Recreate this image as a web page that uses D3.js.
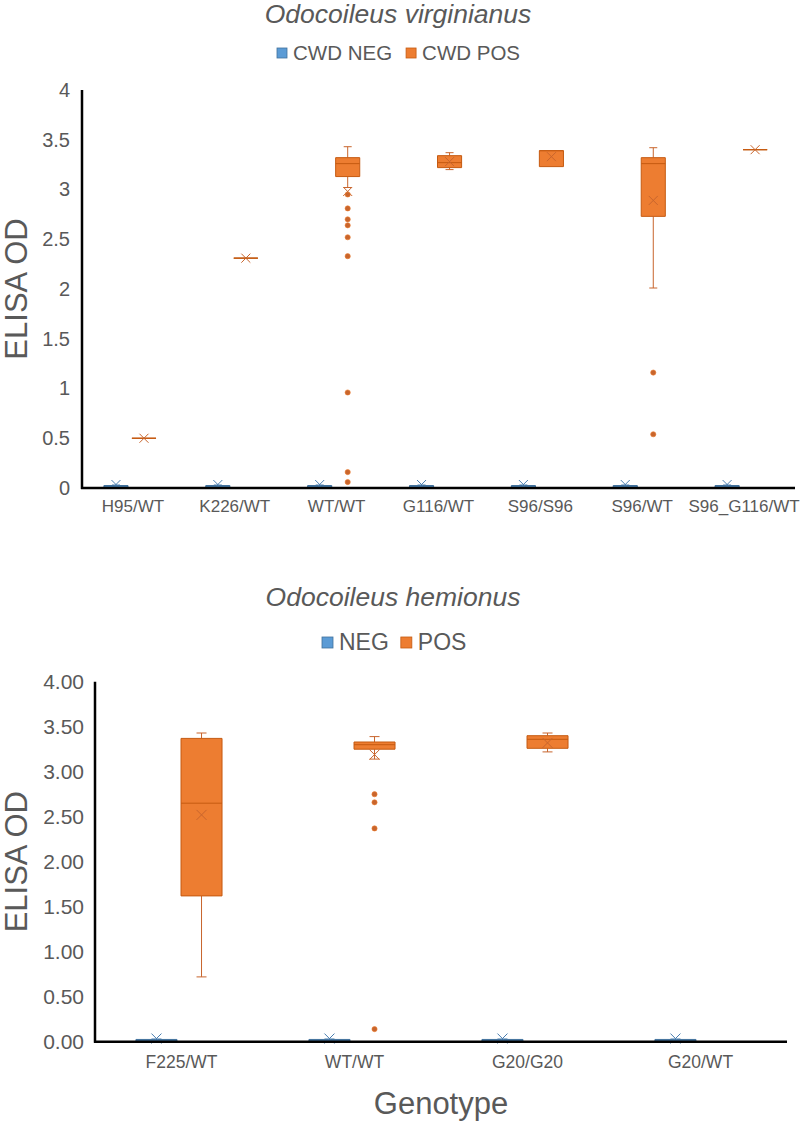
<!DOCTYPE html>
<html>
<head>
<meta charset="utf-8">
<script src="https://cdn.jsdelivr.net/npm/d3@7"></script>
<style>
  html, body { margin: 0; padding: 0; background: #fff; }
  svg { display: block; font-family: "Liberation Sans", Arial, sans-serif; }
</style>
</head>
<body>
<svg id="chart" width="800" height="1124"></svg>
<script>
// ---------- DATA ----------
// box stats: [min, q1, median, q3, max, mean]
const topTitle = "Odocoileus virginianus";
const topSeries = ["CWD NEG", "CWD POS"];
const topCategories = ["H95/WT", "K226/WT", "WT/WT", "G116/WT", "S96/S96", "S96/WT", "S96_G116/WT"];
const topTicks = [0, 0.5, 1, 1.5, 2, 2.5, 3, 3.5, 4];
const topNeg = [
  [0, 0, 0.01, 0.025, 0.03, 0.035],
  [0, 0, 0.01, 0.025, 0.03, 0.035],
  [0, 0, 0.01, 0.025, 0.03, 0.035],
  [0, 0, 0.01, 0.025, 0.03, 0.035],
  [0, 0, 0.01, 0.025, 0.03, 0.035],
  [0, 0, 0.01, 0.025, 0.03, 0.035],
  [0, 0, 0.01, 0.025, 0.03, 0.035]
];
const topPos = [
  [0.50, 0.50, 0.50, 0.50, 0.50, 0.50],
  [2.31, 2.31, 2.31, 2.31, 2.31, 2.31],
  [3.02, 3.13, 3.26, 3.32, 3.43, 2.98],
  [3.20, 3.22, 3.27, 3.34, 3.37, 3.28],
  [3.23, 3.23, 3.39, 3.39, 3.39, 3.33],
  [2.01, 2.73, 3.26, 3.32, 3.42, 2.89],
  [3.40, 3.40, 3.40, 3.40, 3.40, 3.40]
];
const topPosOutliers = [
  [], [],
  [2.95, 2.81, 2.70, 2.64, 2.52, 2.33, 0.96, 0.16, 0.06],
  [], [],
  [1.16, 0.54],
  []
];

const botTitle = "Odocoileus hemionus";
const botSeries = ["NEG", "POS"];
const botCategories = ["F225/WT", "WT/WT", "G20/G20", "G20/WT"];
const botTicks = [0, 0.5, 1, 1.5, 2, 2.5, 3, 3.5, 4];
const botNeg = [
  [0, 0, 0.01, 0.025, 0.03, 0.035],
  [0, 0, 0.01, 0.025, 0.03, 0.035],
  [0, 0, 0.01, 0.025, 0.03, 0.035],
  [0, 0, 0.01, 0.025, 0.03, 0.035]
];
const botPos = [
  [0.72, 1.62, 2.65, 3.37, 3.43, 2.52],
  [3.14, 3.25, 3.30, 3.33, 3.39, 3.19],
  [3.22, 3.26, 3.36, 3.40, 3.43, 3.32],
  null
];
const botPosOutliers = [[], [2.75, 2.66, 2.37, 0.14], [], []];

const xTitle = "Genotype";
const yTitle = "ELISA OD";

// ---------- STYLE ----------
const textColor = "#595959";
const colors = {
  neg: { fill: "#5B9BD5", stroke: "#41719C", mark: "#4A7EB0" },
  pos: { fill: "#ED7D31", stroke: "#C55A11", mark: "#C8652D" }
};

const svg = d3.select("#chart");

function drawPanel(cfg) {
  const g = svg.append("g");
  const x = d3.scaleBand().domain(cfg.categories).range([cfg.left, cfg.right]);
  const y = d3.scaleLinear().domain([0, 4]).range([cfg.bottom, cfg.top]);
  const x1 = d3.scaleBand().domain(cfg.series)
    .range([x.bandwidth() * cfg.subStart, x.bandwidth() * cfg.subEnd]);
  const boxW = x1.bandwidth() * cfg.boxFrac;
  const capW = cfg.capW;

  // title
  g.append("text")
    .attr("x", cfg.titleX).attr("y", cfg.titleY)
    .attr("text-anchor", "middle")
    .attr("font-size", cfg.titleSize).attr("font-style", "italic")
    .attr("fill", textColor)
    .text(cfg.title);

  // legend
  const lg = g.append("g");
  const legendItems = cfg.series.map((s, i) => ({ name: s, c: i === 0 ? colors.neg : colors.pos }));
  let lx = cfg.legendX;
  legendItems.forEach((it, i) => {
    lg.append("rect")
      .attr("x", lx).attr("y", cfg.legendY - cfg.legendSq - 2)
      .attr("width", cfg.legendSq).attr("height", cfg.legendSq)
      .attr("fill", it.c.fill).attr("stroke", it.c.stroke).attr("stroke-width", 0.8);
    const t = lg.append("text")
      .attr("x", lx + cfg.legendSq + 6).attr("y", cfg.legendY)
      .attr("font-size", cfg.legendSize).attr("fill", textColor)
      .text(it.name);
    lx += cfg.legendSq + 6 + t.node().getComputedTextLength() + cfg.legendGap;
  });

  // y axis labels
  const yAxis = d3.axisLeft(y).tickValues(cfg.ticks).tickFormat(cfg.fmt).tickSize(0).tickPadding(cfg.tickPad);
  const ya = g.append("g").attr("transform", `translate(${cfg.left},0)`).call(yAxis);
  ya.select(".domain").remove();
  ya.selectAll("text").attr("font-size", cfg.tickSize).attr("fill", textColor)
    .attr("font-family", '"Liberation Sans", Arial, sans-serif');

  // x axis labels
  const xAxis = d3.axisBottom(x).tickSize(0).tickPadding(cfg.xTickPad);
  const xa = g.append("g").attr("transform", `translate(0,${cfg.bottom})`).call(xAxis);
  xa.select(".domain").remove();
  xa.selectAll("text").attr("font-size", cfg.catSize).attr("fill", textColor)
    .attr("font-family", '"Liberation Sans", Arial, sans-serif');

  // y title
  g.append("text")
    .attr("transform", `translate(${cfg.yTitleX},${(cfg.top + cfg.bottom) / 2}) rotate(-90)`)
    .attr("text-anchor", "middle").attr("dy", "0.35em")
    .attr("font-size", 31).attr("fill", textColor)
    .text(yTitle);

  // boxes
  function drawBoxes(stats, outliers, seriesName, c) {
    stats.forEach((s, i) => {
      if (!s) return;
      const [mn, q1, md, q3, mx, mean] = s;
      const cx = x(cfg.categories[i]) + x1(seriesName) + x1.bandwidth() / 2;
      const bg = g.append("g");
      // whiskers
      bg.append("line").attr("x1", cx).attr("x2", cx).attr("y1", y(q3)).attr("y2", y(mx))
        .attr("stroke", c.mark).attr("stroke-width", 1);
      bg.append("line").attr("x1", cx).attr("x2", cx).attr("y1", y(q1)).attr("y2", y(mn))
        .attr("stroke", c.mark).attr("stroke-width", 1);
      if (mx > q3) bg.append("line").attr("x1", cx - capW / 2).attr("x2", cx + capW / 2)
        .attr("y1", y(mx)).attr("y2", y(mx)).attr("stroke", c.mark).attr("stroke-width", 1);
      if (mn < q1) bg.append("line").attr("x1", cx - capW / 2).attr("x2", cx + capW / 2)
        .attr("y1", y(mn)).attr("y2", y(mn)).attr("stroke", c.mark).attr("stroke-width", 1);
      // box
      const x0 = cx - boxW / 2, xr = cx + boxW / 2;
      bg.append("path")
        .attr("d", `M${x0},${y(q3)}H${xr}V${y(q1)}H${x0}Z`)
        .attr("fill", c.fill).attr("stroke", c.stroke).attr("stroke-width", 1);
      // median
      bg.append("line").attr("x1", x0).attr("x2", xr).attr("y1", y(md)).attr("y2", y(md))
        .attr("stroke", c.stroke).attr("stroke-width", 1);
      // mean marker
      const m = cfg.meanSize;
      bg.append("path")
        .attr("d", `M${cx - m},${y(mean) - m}L${cx + m},${y(mean) + m}M${cx - m},${y(mean) + m}L${cx + m},${y(mean) - m}`)
        .attr("stroke", c.mark).attr("stroke-width", 1).attr("fill", "none");
      // outliers
      (outliers[i] || []).forEach(v => {
        bg.append("circle").attr("cx", cx).attr("cy", y(v)).attr("r", 2.6)
          .attr("fill", c.mark).attr("stroke", c.fill).attr("stroke-width", 0.6);
      });
    });
  }
  drawBoxes(cfg.neg, cfg.neg.map(() => []), cfg.series[0], colors.neg);
  drawBoxes(cfg.pos, cfg.posOut, cfg.series[1], colors.pos);

  // axis lines
  g.append("line").attr("x1", cfg.left).attr("x2", cfg.left).attr("y1", cfg.top).attr("y2", cfg.bottom + 1)
    .attr("stroke", "#000").attr("stroke-width", 2.5);
  g.append("line").attr("x1", cfg.left - 1).attr("x2", cfg.right).attr("y1", cfg.bottom).attr("y2", cfg.bottom)
    .attr("stroke", "#000").attr("stroke-width", 2.5);
}

drawPanel({
  title: topTitle, titleX: 398, titleY: 23, titleSize: 26.5,
  series: topSeries, legendX: 277, legendY: 60, legendSq: 10, legendSize: 20.5, legendGap: 14,
  categories: topCategories, ticks: topTicks, fmt: d => String(d),
  left: 82, right: 795, top: 90, bottom: 488,
  subStart: 0.196, subEnd: 0.746, boxFrac: 0.86, capW: 8, meanSize: 4.5,
  tickPad: 12, tickSize: 20, xTickPad: 12, catSize: 17, yTitleX: 16,
  neg: topNeg, pos: topPos, posOut: topPosOutliers
});

drawPanel({
  title: botTitle, titleX: 393, titleY: 606, titleSize: 26.5,
  series: botSeries, legendX: 322, legendY: 650, legendSq: 11, legendSize: 23, legendGap: 12,
  categories: botCategories, ticks: botTicks, fmt: d3.format(".2f"),
  left: 95, right: 787, top: 681.7, bottom: 1041.7,
  subStart: 0.225, subEnd: 0.746, boxFrac: 0.91, capW: 10, meanSize: 5,
  tickPad: 11, tickSize: 21, xTickPad: 14, catSize: 17.5, yTitleX: 16,
  neg: botNeg, pos: botPos, posOut: botPosOutliers
});

svg.append("text")
  .attr("x", 441).attr("y", 1114)
  .attr("text-anchor", "middle")
  .attr("font-size", 31).attr("fill", textColor)
  .text(xTitle);
</script>
</body>
</html>
